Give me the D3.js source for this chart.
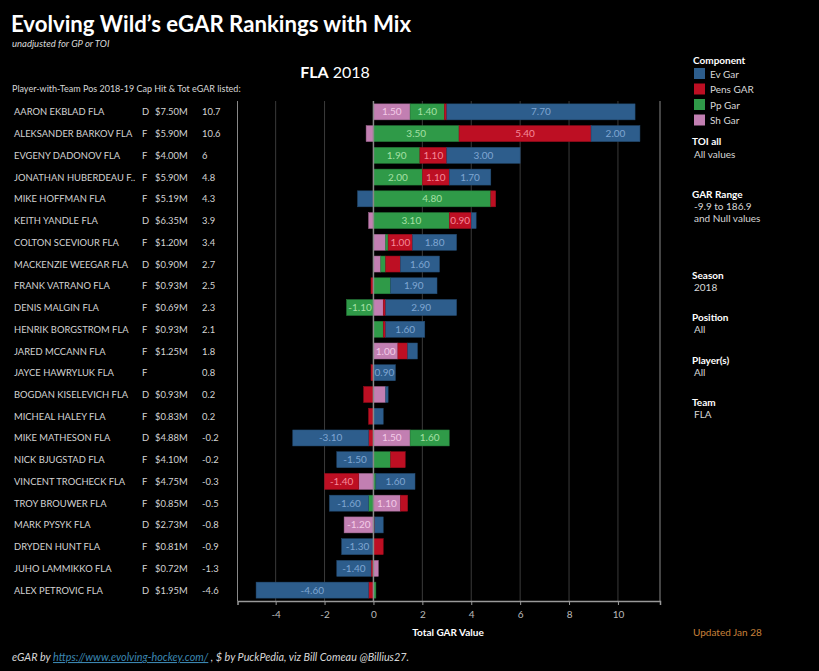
<!DOCTYPE html>
<html><head><meta charset="utf-8">
<script src="https://cdn.jsdelivr.net/npm/d3@7"></script>
<style>
html,body{margin:0;padding:0;background:#000;}
svg{display:block;font-family:Lato,"Open Sans",sans-serif;}
</style></head>
<body>
<svg id="chart" width="819" height="671"></svg>
<script>
const players = ["AARON EKBLAD FLA","ALEKSANDER BARKOV FLA","EVGENY DADONOV FLA","JONATHAN HUBERDEAU F..","MIKE HOFFMAN FLA","KEITH YANDLE FLA","COLTON SCEVIOUR FLA","MACKENZIE WEEGAR FLA","FRANK VATRANO FLA","DENIS MALGIN FLA","HENRIK BORGSTROM FLA","JARED MCCANN FLA","JAYCE HAWRYLUK FLA","BOGDAN KISELEVICH FLA","MICHEAL HALEY FLA","MIKE MATHESON FLA","NICK BJUGSTAD FLA","VINCENT TROCHECK FLA","TROY BROUWER FLA","MARK PYSYK FLA","DRYDEN HUNT FLA","JUHO LAMMIKKO FLA","ALEX PETROVIC FLA"];
const positions = ["D","F","F","F","F","D","F","D","F","F","F","F","F","D","F","D","F","F","F","D","F","F","D"];
const capHits = ["$7.50M","$5.90M","$4.00M","$5.90M","$5.19M","$6.35M","$1.20M","$0.90M","$0.93M","$0.69M","$0.93M","$1.25M","","$0.93M","$0.83M","$4.88M","$4.10M","$4.75M","$0.85M","$2.73M","$0.81M","$0.72M","$1.95M"];
const totEgar = ["10.7","10.6","6","4.8","4.3","3.9","3.4","2.7","2.5","2.3","2.1","1.8","0.8","0.2","0.2","-0.2","-0.2","-0.3","-0.5","-0.8","-0.9","-1.3","-4.6"];
const evGar   = [7.7, 2.0, 3.0, 1.7, -0.65, 0.2, 1.8, 1.6, 1.9, 2.9, 1.6, 0.4, 0.9, 0.1, 0.4, -3.1, -1.5, 1.6, -1.6, 0.35, -1.3, -1.4, -4.6];
const pensGar = [0.1, 5.4, 1.1, 1.1, 0.2, 0.9, 1.0, 0.6, -0.1, 0.1, 0.1, 0.4, -0.1, -0.4, -0.2, -0.2, 0.6, -1.4, 0.3, 0.05, 0.4, -0.1, -0.2];
const ppGar   = [1.4, 3.5, 1.9, 2.0, 4.8, 3.1, 0.1, 0.2, 0.7, -1.1, 0.4, 0, 0, 0, 0, 1.6, 0.7, 0.1, -0.2, 0, 0, 0, 0.1];
const shGar   = [1.5, -0.3, 0, 0, 0, -0.2, 0.5, 0.3, 0, 0.4, 0, 1.0, 0, 0.5, 0, 1.5, 0, -0.6, 1.1, -1.2, 0, 0.2, 0];
const xTicks = [-4,-2,0,2,4,6,8,10];
const components = ["Ev Gar","Pens GAR","Pp Gar","Sh Gar"];

const colors = {ev:"#2d5d8c", pens:"#bd0f23", pp:"#2f9a48", sh:"#c27fb2"};
const labelColors = {ev:"#7fa6d2", pens:"#f58a9a", pp:"#a5e0a5", sh:"#f4cbe8"};
const legendKeys = ["ev","pens","pp","sh"];

const rows = players.map((p,i)=>({name:p, ev:evGar[i], pens:pensGar[i], pp:ppGar[i], sh:shGar[i]}));

const svg = d3.select("#chart");
const W=819,H=671;
svg.append("rect").attr("width",W).attr("height",H).attr("fill","#000");

const plotL=237.5, plotR=660, plotT=101, plotB=601;
const x = d3.scaleLinear().domain([-5.56,11.72]).range([plotL,plotR]);
const y = d3.scaleBand().domain(players).range([plotT,plotB]).paddingInner(0.264).paddingOuter(0.132);

// Title
svg.append("text").attr("x",11).attr("y",32).attr("fill","#fff").attr("font-size",22.2).attr("font-weight",700).text("Evolving Wild\u2019s eGAR Rankings with Mix");
svg.append("text").attr("x",12).attr("y",47).attr("fill","#d8d8d8").attr("font-size",9.5).attr("font-style","italic").text("unadjusted for GP or TOI");

const sub = svg.append("text").attr("x",335).attr("y",78).attr("text-anchor","middle").attr("fill","#fff").attr("font-size",16);
sub.append("tspan").attr("font-weight",700).text("FLA");
sub.append("tspan").text(" 2018");

svg.append("text").attr("x",12).attr("y",92).attr("fill","#d8d8d8").attr("font-size",9).text("Player-with-Team Pos 2018-19 Cap Hit & Tot eGAR listed:");

// table
const tbl = svg.append("g").attr("font-size",9.4).attr("fill","#d4d4d4");
players.forEach((p,i)=>{
  const cy = y(p)+y.bandwidth()/2+3.5;
  tbl.append("text").attr("x",14).attr("y",cy).text(p);
  tbl.append("text").attr("x",142).attr("y",cy).text(positions[i]);
  tbl.append("text").attr("x",155).attr("y",cy).text(capHits[i]);
  tbl.append("text").attr("x",202).attr("y",cy).text(totEgar[i]);
});

// gridlines
svg.append("g").selectAll("line").data(xTicks.filter(t=>t!==0)).join("line")
  .attr("x1",d=>x(d)).attr("x2",d=>x(d)).attr("y1",plotT).attr("y2",plotB)
  .attr("stroke","#3a3a3a").attr("stroke-width",1);

// stack
const stack = d3.stack().keys(["sh","pp","pens","ev"]).offset(d3.stackOffsetDiverging);
const series = stack(rows);

const gBars = svg.append("g");
series.forEach(s=>{
  const key = s.key;
  gBars.selectAll(null).data(s).join("rect")
    .attr("x",d=>x(Math.min(d[0],d[1])))
    .attr("width",d=>Math.abs(x(d[1])-x(d[0])))
    .attr("y",d=>y(d.data.name))
    .attr("height",y.bandwidth())
    .attr("fill",colors[key])
    .attr("stroke",d=>d[1]-d[0]!==0? d3.color(colors[key]).darker(0.6):"none")
    .attr("stroke-width",0.5);
  gBars.selectAll(null).data(s.filter(d=>Math.abs(d.data[key])>=0.85)).join("text")
    .attr("x",d=>(x(d[0])+x(d[1]))/2)
    .attr("y",d=>y(d.data.name)+y.bandwidth()/2+3.5)
    .attr("text-anchor","middle").attr("font-size",10)
    .attr("fill",labelColors[key])
    .text(d=>d3.format(".2f")(d.data[key]).replace("\u2212","-"));
});

// zero line
svg.append("line").attr("x1",x(0)).attr("x2",x(0)).attr("y1",plotT).attr("y2",plotB).attr("stroke","#8a8a8a").attr("stroke-width",1.5);
// borders
svg.append("line").attr("x1",plotL).attr("x2",plotL).attr("y1",plotT).attr("y2",plotB).attr("stroke","#888").attr("stroke-width",1);
svg.append("line").attr("x1",plotR).attr("x2",plotR).attr("y1",plotT).attr("y2",plotB).attr("stroke","#888").attr("stroke-width",1);

// axis
const ax = svg.append("g").attr("transform",`translate(0,${plotB})`)
  .call(d3.axisBottom(x).tickValues(xTicks).tickSize(4).tickPadding(6).tickFormat(d3.format("d")));
ax.select(".domain").attr("stroke","#999").attr("stroke-width",1.5);
ax.selectAll(".tick line").attr("stroke","#999");
ax.selectAll(".tick text").attr("fill","#bbb").attr("font-size",10).attr("font-family","Lato,'Open Sans',sans-serif");
ax.selectAll(".tick text").text(d=>d<0? "-"+Math.abs(d): d);

svg.append("text").attr("x",448).attr("y",636).attr("text-anchor","middle").attr("fill","#fff").attr("font-size",10).attr("font-weight",700).text("Total GAR Value");

// legend / right panel
const rp = svg.append("g");
rp.append("text").attr("x",693).attr("y",64).attr("fill","#fff").attr("font-size",10).attr("font-weight",700).text("Component");
legendKeys.forEach((k,i)=>{
  const yy = 68+i*15.5;
  rp.append("rect").attr("x",694).attr("y",yy).attr("width",11).attr("height",11).attr("fill",colors[k]);
  rp.append("text").attr("x",710).attr("y",yy+9.5).attr("fill","#d8d8d8").attr("font-size",10).text(components[i]);
});
const panel = [["TOI all",145],["All values",158,true],["GAR Range",198],["-9.9 to 186.9",210,true],["and Null values",222,true],["Season",279],["2018",291,true],["Position",321],["All",333,true],["Player(s)",364],["All",376,true],["Team",406],["FLA",418,true]];
panel.forEach(([t,yy,plain])=>{
  rp.append("text").attr("x",plain?694:692).attr("y",yy).attr("fill",plain?"#d8d8d8":"#fff")
    .attr("font-size",10).attr("font-weight",plain?400:700).text(t);
});

svg.append("text").attr("x",693).attr("y",636).attr("fill","#c8803a").attr("font-size",10).text("Updated Jan 28");

// footer
const ft = svg.append("text").attr("x",12).attr("y",661).attr("fill","#d8d8d8").attr("font-size",10.8).attr("font-style","italic");
ft.append("tspan").text("eGAR by  ");
ft.append("tspan").attr("fill","#3b86b0").attr("text-decoration","underline").text("https://www.evolving-hockey.com/");
ft.append("tspan").text("  , $ by PuckPedia, viz Bill Comeau @Billius27.");
</script>
</body></html>
